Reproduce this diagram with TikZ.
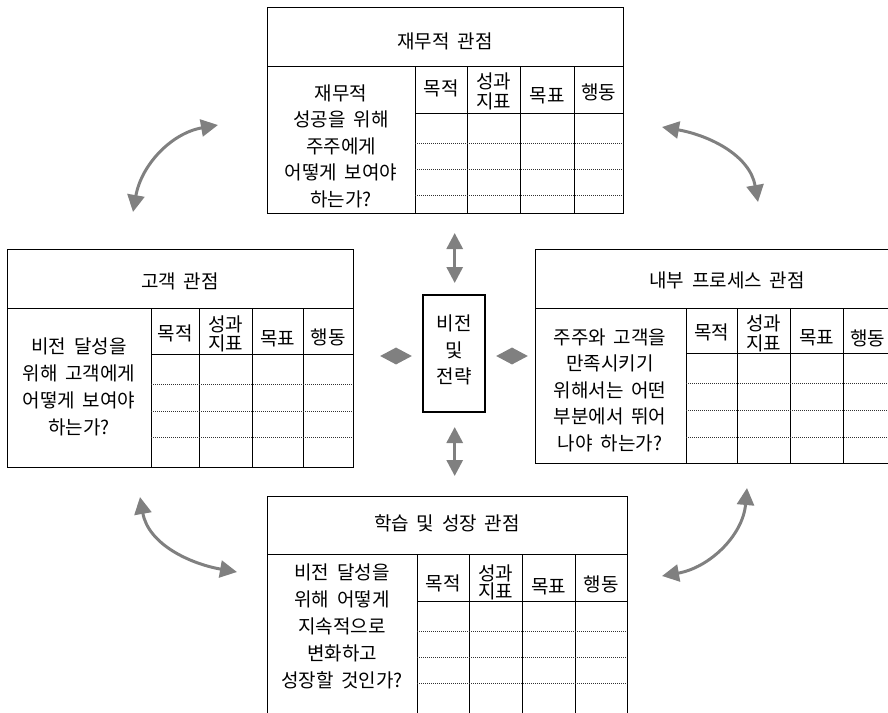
\documentclass[tikz,border=0pt]{standalone}
\usepackage{fontspec}
\setmainfont[WordSpace=1.8]{Noto Sans CJK KR}
\usetikzlibrary{arrows.meta}
\definecolor{arrowgray}{RGB}{128,128,128}
\definecolor{dotgray}{RGB}{50,50,50}
\begin{document}
\begin{tikzpicture}[x=1pt,y=1pt,
  outer/.style={draw, line width=1.2pt, inner sep=0pt, anchor=north west},
  inner/.style={line width=1pt},
  dots/.style={line width=0.7pt, dash pattern=on 0.8pt off 1.2pt, draw=dotgray},
  txt/.style={font=\fontsize{19}{26.5}\selectfont, align=center, inner sep=0pt},
  qtxt/.style={font=\fontsize{19}{27}\selectfont, align=center, inner sep=0pt},
  garrow/.style={draw=arrowgray, line width=3pt, {Triangle[length=17pt,width=17pt]}-{Triangle[length=17pt,width=17pt]}},
  carrow/.style={draw=arrowgray, line width=3pt, {Triangle[length=16pt,width=16pt]}-{Triangle[length=16pt,width=16pt]}},
]
\useasboundingbox (0,0) rectangle (888,-712);
\clip (0,0) rectangle (888,-712);

% ---------- top box: financial ----------
\node[outer, minimum width=356pt, minimum height=206pt] (T) at (267,-7) {};
\draw[inner] (267,-66) -- (623,-66);
\foreach \x in {415,467,520,574} \draw[inner] (\x,-66) -- (\x,-213);
\draw[inner] (415,-113) -- (623,-113);
\foreach \y in {143,169,195} \draw[dots] (415,-\y) -- (623,-\y);
\node[txt] (Tt) at (445,-41) {재무적 관점};
\node[txt] (Tq) at (341,-146) {재무적\\성공을 위해\\주주에게\\어떻게 보여야\\하는가?};
\node[txt] (Th1) at (441,-88) {목적};
\node[txt] (Th2a) at (493.5,-81) {성과};
\node[txt] (Th2b) at (493.5,-101) {지표};
\node[txt] (Th3) at (547,-96) {목표};
\node[txt] (Th4) at (598.5,-92) {행동};

% ---------- left box: customer ----------
\node[outer, minimum width=346pt, minimum height=218pt] (L) at (7,-249) {};
\draw[inner] (7,-308) -- (353,-308);
\foreach \x in {151,199,252,303} \draw[inner] (\x,-308) -- (\x,-467);
\draw[inner] (151,-354) -- (353,-354);
\foreach \y in {384,411,437} \draw[dots] (151,-\y) -- (353,-\y);
\node[txt] (Lt) at (180,-281) {고객 관점};
\node[qtxt] (Lq) at (79,-387) {비전 달성을\\위해 고객에게\\어떻게 보여야\\하는가?};
\node[txt] (Lh1) at (175,-333) {목적};
\node[txt] (Lh2a) at (225.5,-324) {성과};
\node[txt] (Lh2b) at (225.5,-343) {지표};
\node[txt] (Lh3) at (277.5,-339) {목표};
\node[txt] (Lh4) at (328,-337) {행동};

% ---------- right box: internal process ----------
\node[outer, minimum width=357pt, minimum height=214pt] (R) at (535,-249) {};
\draw[inner] (535,-308) -- (892,-308);
\foreach \x in {686,737,790,843} \draw[inner] (\x,-308) -- (\x,-463);
\draw[inner] (686,-353) -- (892,-353);
\foreach \y in {383,410,437} \draw[dots] (686,-\y) -- (892,-\y);
\node[txt] (Rt) at (727,-280) {내부 프로세스 관점};
\node[txt] (Rq) at (610,-390) {주주와 고객을\\만족시키기\\위해서는 어떤\\부분에서 뛰어\\나야 하는가?};
\node[txt] (Rh1) at (711.5,-332) {목적};
\node[txt] (Rh2a) at (763.5,-323) {성과};
\node[txt] (Rh2b) at (763.5,-343) {지표};
\node[txt] (Rh3) at (816.5,-338) {목표};
\node[txt] (Rh4) at (867.5,-338) {행동};

% ---------- bottom box: learning & growth ----------
\node[outer, minimum width=360pt, minimum height=230pt] (B) at (267,-496) {};
\draw[inner] (267,-554) -- (627,-554);
\foreach \x in {417,469,522,575} \draw[inner] (\x,-554) -- (\x,-726);
\draw[inner] (417,-601) -- (627,-601);
\foreach \y in {631,657,683} \draw[dots] (417,-\y) -- (627,-\y);
\node[txt] (Bt) at (447,-523) {학습 및 성장 관점};
\node[qtxt] (Bq) at (342,-626) {비전 달성을\\위해 어떻게\\지속적으로\\변화하고\\성장할 것인가?};
\node[txt] (Bh1) at (443,-583) {목적};
\node[txt] (Bh2a) at (495.5,-573) {성과};
\node[txt] (Bh2b) at (495.5,-591) {지표};
\node[txt] (Bh3) at (548.5,-587) {목표};
\node[txt] (Bh4) at (601,-584) {행동};

% ---------- center box ----------
\node[draw, line width=1.1pt, minimum width=62pt, minimum height=117pt, inner sep=0pt] (V) at (454,-353.5) {};
\node[txt] (Vt) at (454,-350) {비전\\및\\전략};

% ---------- central arrows ----------
\coordinate (c1a) at (454.7,-233);
\coordinate (c1b) at (454.7,-283);
\coordinate (c2a) at (454.7,-427);
\coordinate (c2b) at (454.7,-476);
\coordinate (c3a) at (380,-356);
\coordinate (c3b) at (412,-356);
\coordinate (c4a) at (496,-356);
\coordinate (c4b) at (528,-356);
\draw[carrow] (c1a) -- (c1b);
\draw[carrow] (c2a) -- (c2b);
\draw[carrow] (c3a) -- (c3b);
\draw[carrow] (c4a) -- (c4b);

% ---------- curved arrows ----------
\coordinate (a1s) at (133,-212);
\coordinate (a1e) at (218,-125);
\coordinate (a2s) at (662,-127);
\coordinate (a2e) at (758,-202);
\coordinate (a3s) at (140,-497);
\coordinate (a3e) at (237,-572);
\coordinate (a4s) at (747,-488);
\coordinate (a4e) at (662,-576);
\draw[garrow] (a1s) to[out=80,in=190] (a1e);
\draw[garrow] (a2s) to[out=-10,in=100] (a2e);
\draw[garrow] (a3s) to[out=-80,in=170] (a3e);
\draw[garrow] (a4s) to[out=-95,in=10] (a4e);
\end{tikzpicture}
\end{document}
